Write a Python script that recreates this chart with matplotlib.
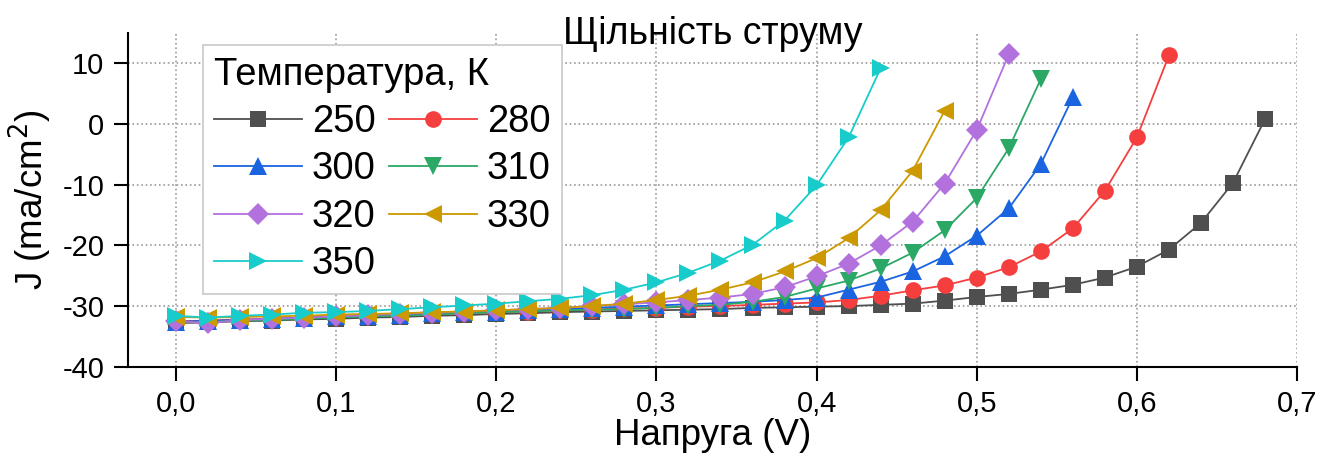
import numpy as np
import matplotlib.pyplot as plt

plt.rcParams['font.family'] = ['Liberation Sans', 'DejaVu Sans']
plt.rcParams['axes.unicode_minus'] = False

# voltage steps (V) and current density (ma/cm2)
v250 = [0.00, 0.02, 0.04, 0.06, 0.08, 0.10, 0.12, 0.14, 0.16, 0.18, 0.20, 0.22,
        0.24, 0.26, 0.28, 0.30, 0.32, 0.34, 0.36, 0.38, 0.40, 0.42, 0.44, 0.46,
        0.48, 0.50, 0.52, 0.54, 0.56, 0.58, 0.60, 0.62, 0.64, 0.66, 0.68]
j250 = [-32.8, -32.7, -32.5, -32.4, -32.2, -32.1, -31.9, -31.8, -31.6, -31.5,
        -31.3, -31.2, -31.0, -30.9, -30.8, -30.7, -30.6, -30.5, -30.3, -30.2,
        -30.1, -30.0, -29.8, -29.6, -29.1, -28.5, -28.0, -27.3, -26.5, -25.3,
        -23.5, -20.7, -16.3, -9.7, 0.8]

v280 = v250[:32]
j280 = [-32.5, -32.4, -32.2, -32.1, -31.9, -31.8, -31.6, -31.5, -31.3, -31.2,
        -31.0, -30.9, -30.7, -30.6, -30.4, -30.3, -30.1, -30.0, -29.8, -29.6,
        -29.4, -29.0, -28.3, -27.4, -26.6, -25.3, -23.6, -21.0, -17.2, -11.0,
        -2.2, 11.3]

v300 = v250[:29]
j300 = [-32.6, -32.4, -32.3, -32.1, -31.9, -31.7, -31.6, -31.4, -31.2, -31.0,
        -30.9, -30.7, -30.5, -30.3, -30.1, -29.9, -29.7, -29.5, -29.3, -29.0,
        -28.6, -27.3, -26.0, -24.3, -21.8, -18.4, -13.9, -6.6, 4.4]

v310 = v250[:28]
j310 = [-32.7, -32.6, -32.4, -32.3, -32.1, -31.9, -31.7, -31.6, -31.4, -31.2,
        -31.0, -30.9, -30.7, -30.6, -30.5, -30.3, -30.0, -29.8, -29.3, -28.5,
        -27.1, -25.8, -23.8, -21.2, -17.5, -12.2, -4.0, 7.4]

v320 = v250[:27]
j320 = [-32.5, -32.8, -32.3, -32.1, -31.9, -31.7, -31.5, -31.3, -31.1, -30.9,
        -30.7, -30.5, -30.3, -30.0, -29.7, -29.4, -29.0, -28.6, -28.0, -26.9,
        -25.1, -23.0, -20.0, -16.1, -9.8, -1.0, 11.5]

v330 = v250[:25]
j330 = [-31.8, -31.9, -31.8, -31.7, -31.6, -31.4, -31.3, -31.2, -31.0, -30.9,
        -30.7, -30.5, -30.3, -30.0, -29.6, -29.0, -28.3, -27.3, -26.1, -24.3,
        -22.1, -18.8, -14.2, -7.7, 2.2]

v350 = v250[:23]
j350 = [-31.6, -31.9, -31.6, -31.4, -31.1, -31.0, -30.8, -30.5, -30.2, -29.9,
        -29.6, -29.2, -28.8, -28.2, -27.3, -26.1, -24.5, -22.5, -19.9, -15.9,
        -10.1, -2.2, 9.2]

temps = ['250', '280', '300', '310', '320', '330', '350']
volts = [v250, v280, v300, v310, v320, v330, v350]
dens = [j250, j280, j300, j310, j320, j330, j350]
colors = ['#4f4f4f', '#f53e3e', '#1b64e0', '#2ba866', '#b271dc', '#cc9900', '#19cccc']
markers = ['s', 'o', '^', 'v', 'D', '<', '>']
sizes = [11, 12, 13, 13, 11, 13, 13]

fig = plt.figure(figsize=(13.22, 4.59), dpi=100)
ax = fig.add_axes([0.0968, 0.201, 0.8843, 0.727])

lines = {}
for t, v, j, c, m, s in zip(temps, volts, dens, colors, markers, sizes):
    ln, = ax.plot(v, j, color=c, marker=m, markersize=s, lw=1.3, label=t,
                  markeredgewidth=0)
    lines[t] = ln

ax.set_xlim(-0.03, 0.70)
ax.set_ylim(-40, 15)
ax.set_xticks(np.arange(0, 0.71, 0.1))
ax.set_xticklabels([f'{x:.1f}'.replace('.', ',') for x in np.arange(0, 0.71, 0.1)])
ax.set_yticks([-40, -30, -20, -10, 0, 10])

ax.grid(True, color='#999999', linestyle=':', lw=1.2)
for sp in ['top', 'right']:
    ax.spines[sp].set_visible(False)
for sp in ['left', 'bottom']:
    ax.spines[sp].set_linewidth(1.5)
ax.tick_params(direction='out', length=10, width=1.5, labelsize=21, pad=7)

ax.set_xlabel('Напруга (V)', fontsize=26.5, labelpad=0)
ax.set_ylabel('J (ma/cm$^2$)', fontsize=26.5, labelpad=6)
ax.set_title('Щільність струму', fontsize=27, y=0.967, pad=0)

order = ['250', '300', '320', '350', '280', '310', '330']
leg = ax.legend([lines[t] for t in order], order, ncol=2, loc='upper left',
                bbox_to_anchor=(0.0642, 0.964), borderaxespad=0,
                fontsize=27.5, title='Температура, К', title_fontsize=27.5,
                alignment='left', fancybox=False, edgecolor='#c8c8c8',
                framealpha=1, handlelength=2.3, handletextpad=0.25,
                columnspacing=0.35, labelspacing=0.3, borderpad=0.3)
leg.get_frame().set_linewidth(1.2)

fig.savefig('out.png', dpi=100)
